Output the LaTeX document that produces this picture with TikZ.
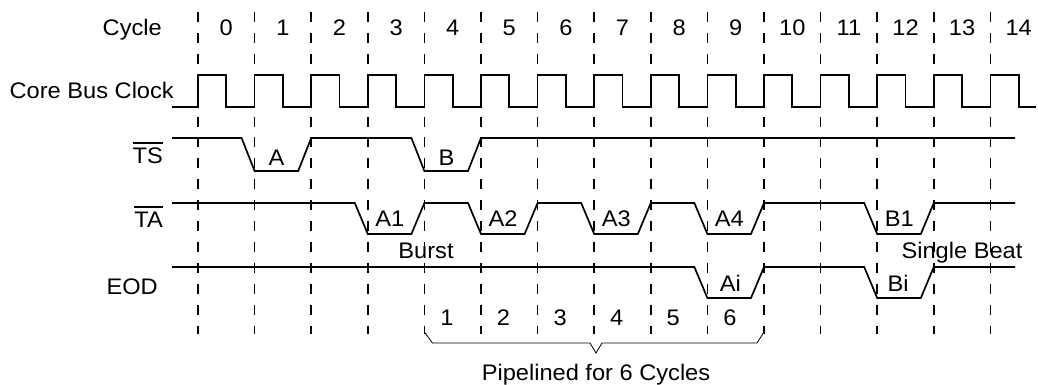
\documentclass[tikz,border=0pt]{standalone}
\usepackage{fontspec}
\setmainfont{Liberation Sans}[FakeStretch=1.05]
\usepackage{tikz}
\usetikzlibrary{positioning}

% active-low signal name
\newcommand{\actlow}[1]{\vbox{\hrule height 2pt\kern 3.5pt\hbox{#1}}}

\begin{document}
\begin{tikzpicture}[
    x=1pt, y=-1pt,
    wave/.style={line width=1.7pt, line join=miter},
    tick/.style={line width=1.7pt, dash pattern=on 10pt off 10.9pt},
    lbl/.style={font=\fontsize{22.5}{25}\selectfont, inner sep=0pt, anchor=base},
    sig/.style={lbl, anchor=base east},
    brace/.style={line width=0.8pt}
]
  \def\xo{198}
  \def\cyc{56.6}
  \useasboundingbox (0,0) rectangle (1038,384);

  % cycle grid
  \foreach \k in {0,...,14} {
    \draw[tick] ({\xo+\cyc*\k},12) -- ({\xo+\cyc*\k},334);
    \node[lbl] (cyc\k) at ({\xo+\cyc*(\k+0.5)},35) {\k};
  }

  % signal names
  \node[sig] (cycle) at (162,35) {Cycle};
  \node[sig] (clk) at (174,98) {Core Bus Clock};
  \node[sig] (ts) at (163,163) {\actlow{TS}};
  \node[sig] (ta) at (163,227) {\actlow{TA}};
  \node[sig] (eod) at (158,294) {EOD};

  % clock
  \draw[wave] (172,107) -- (\xo,107)
    foreach \k in {0,...,13} { -- ({\xo+\cyc*\k},75) -- ({\xo+\cyc*(\k+0.5)},75)
      -- ({\xo+\cyc*(\k+0.5)},107) -- ({\xo+\cyc*(\k+1)},107) }
    -- ({\xo+\cyc*14},75) -- ({\xo+\cyc*14.5},75) -- ({\xo+\cyc*14.5},107) -- (1036,107);

  % TS
  \draw[wave] (172,138)
    foreach \a/\b in {1/2,4/5} { -- ({\xo+\cyc*\a-13},138) -- ({\xo+\cyc*\a},171)
      -- ({\xo+\cyc*\b-13},171) -- ({\xo+\cyc*\b},138) }
    -- (1015,138);
  \node[lbl] (tsA) at ({\xo+\cyc*1+22},165) {A};
  \node[lbl] (tsB) at ({\xo+\cyc*4+22},165) {B};

  % TA
  \draw[wave] (172,203)
    foreach \a/\b in {3/4,5/6,7/8,9/10,12/13} { -- ({\xo+\cyc*\a-13},203) -- ({\xo+\cyc*\a},234)
      -- ({\xo+\cyc*\b-13},234) -- ({\xo+\cyc*\b},203) }
    -- (1015,203);
  \foreach \i/\t in {3/A1,5/A2,7/A3,9/A4,12/B1}
    \node[lbl] (ta\t) at ({\xo+\cyc*\i+22},226) {\t};
  \node[lbl] (burst) at (426,258) {Burst};
  \node[lbl] (single) at (962,258) {Single Beat};

  % EOD
  \draw[wave] (172,267)
    foreach \a/\b in {9/10,12/13} { -- ({\xo+\cyc*\a-13},267) -- ({\xo+\cyc*\a},298)
      -- ({\xo+\cyc*\b-13},298) -- ({\xo+\cyc*\b},267) }
    -- (1015,267);
  \node[lbl] (eodA) at ({\xo+\cyc*9+23},291) {Ai};
  \node[lbl] (eodB) at ({\xo+\cyc*12+21},291) {Bi};

  % pipeline count
  \foreach \n in {1,...,6}
    \node[lbl] (pipe\n) at ({\xo+\cyc*(\n+3)+22.5},325) {\n};

  \coordinate (pl) at ({\xo+\cyc*4},332);
  \coordinate (pr) at ({\xo+\cyc*10},332);
  \coordinate (ptip) at (596,353);
  \draw[brace] (pl) -- ++(8,11) -- (590,343) -- (ptip) -- (602,343) -- (757,343) -- (pr);
  \node[lbl] (pipetxt) at (596,380) {Pipelined for 6 Cycles};
\end{tikzpicture}
\end{document}
